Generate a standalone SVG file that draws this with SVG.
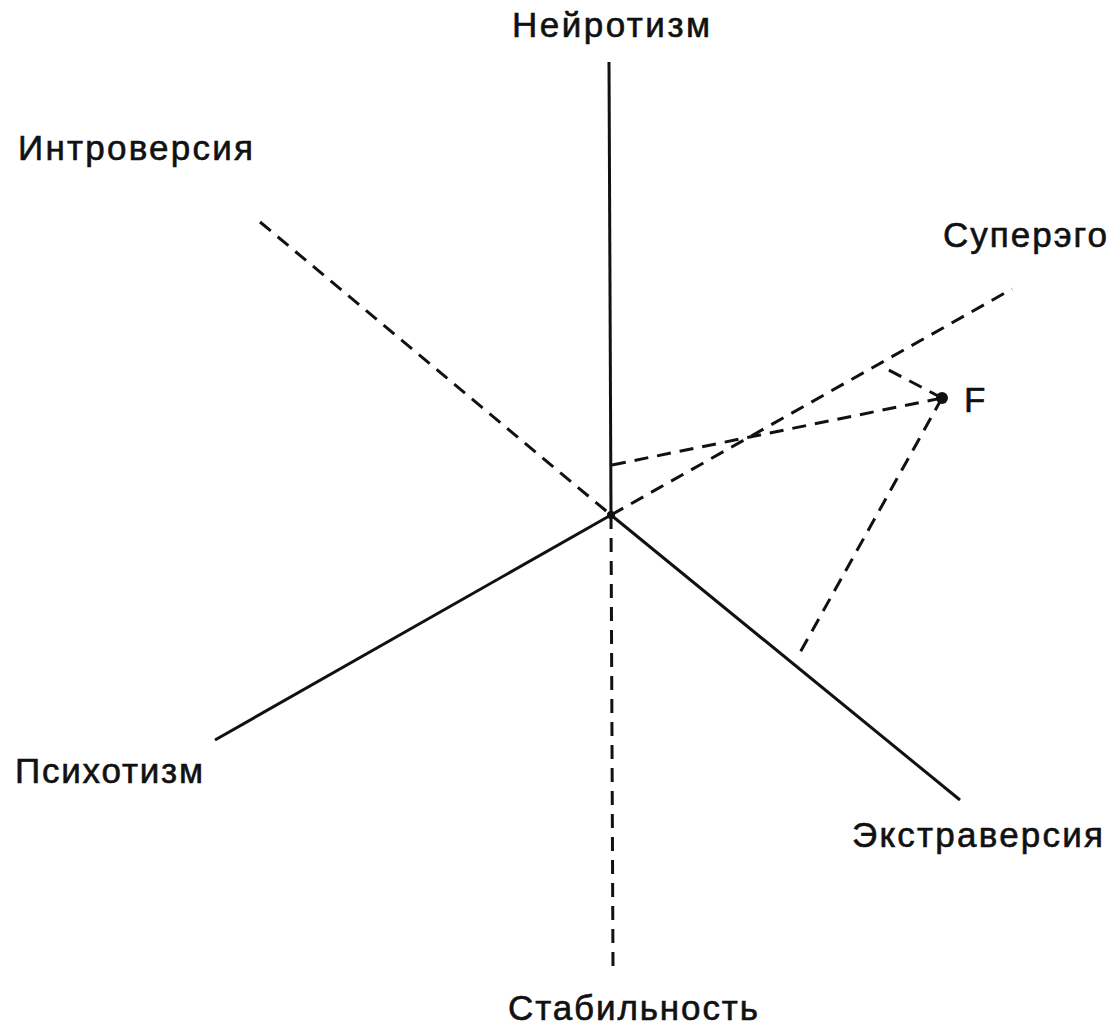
<svg xmlns="http://www.w3.org/2000/svg" width="1117" height="1027" viewBox="0 0 1117 1027">
<style>
.s{stroke:#111;stroke-width:3;fill:none}
.d{stroke:#111;stroke-width:3;fill:none;stroke-dasharray:14 9}
text{font-family:"Liberation Sans",Arial,sans-serif;font-size:35px;fill:#111;stroke:#111;stroke-width:0.6}
</style>
<rect width="1117" height="1027" fill="#fff"/>
<g id="connectors">
<line class="s" x1="609" y1="62" x2="611" y2="515"/>
<line class="d" x1="611" y1="515" x2="613" y2="968"/>
<line class="d" x1="260" y1="222" x2="611" y2="515"/>
<line class="s" x1="611" y1="515" x2="215" y2="740"/>
<line class="s" x1="611" y1="515" x2="960" y2="800"/>
<line class="d" x1="611" y1="515" x2="1012" y2="289"/>
<line class="d" x1="612" y1="465" x2="942" y2="398"/>
<line class="d" x1="942" y1="398" x2="797" y2="658"/>
<line class="d" x1="942" y1="398" x2="885" y2="368"/>
</g>
<g id="center"><circle cx="611" cy="515" r="4" fill="#111"/></g>
<g id="F"><circle cx="942" cy="398" r="6" fill="#111"/><text x="964" y="412">F</text></g>
<g id="neuroticism"><text x="512" y="37" textLength="198" lengthAdjust="spacing">Нейротизм</text></g>
<g id="introversion"><text x="18" y="160" textLength="235" lengthAdjust="spacing">Интроверсия</text></g>
<g id="superego"><text x="943" y="247" textLength="164" lengthAdjust="spacing">Суперэго</text></g>
<g id="psychoticism"><text x="15" y="783" textLength="188" lengthAdjust="spacing">Психотизм</text></g>
<g id="extraversion"><text x="852" y="847" textLength="251" lengthAdjust="spacing">Экстраверсия</text></g>
<g id="stability"><text x="508" y="1020" textLength="250" lengthAdjust="spacing">Стабильность</text></g>
</svg>
